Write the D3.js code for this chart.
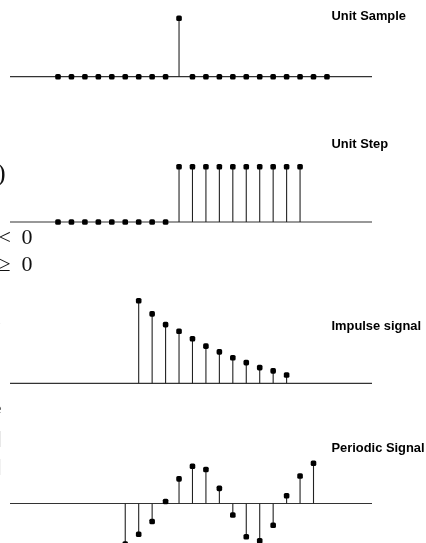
<!DOCTYPE html>
<html>
<head>
<meta charset="utf-8">
<script src="https://cdn.jsdelivr.net/npm/d3@7"></script>
<style>
  body { margin: 0; background: #fff; }
  svg { display: block; will-change: transform; }
  .title { font-family: "Liberation Sans", Arial, sans-serif; font-weight: bold; font-size: 12.9px; fill: #000; }
  .frag { font-family: "Liberation Serif", "DejaVu Serif", serif; fill: #111; }
</style>
</head>
<body>
<svg class="chart"></svg>
<script>
var titles = ['Unit Sample', 'Unit Step', 'Impulse signal', 'Periodic Signal'];

var unitSampleN = [-9, -8, -7, -6, -5, -4, -3, -2, -1, 0, 1, 2, 3, 4, 5, 6, 7, 8, 9, 10, 11];
var unitSampleValues = [0, 0, 0, 0, 0, 0, 0, 0, 0, 1, 0, 0, 0, 0, 0, 0, 0, 0, 0, 0, 0];

var unitStepN = [-9, -8, -7, -6, -5, -4, -3, -2, -1, 0, 1, 2, 3, 4, 5, 6, 7, 8, 9];
var unitStepValues = [0, 0, 0, 0, 0, 0, 0, 0, 0, 1, 1, 1, 1, 1, 1, 1, 1, 1, 1];

var impulseN = [-3, -2, -1, 0, 1, 2, 3, 4, 5, 6, 7, 8];
var impulseValues = [1.00, 0.84, 0.71, 0.63, 0.54, 0.45, 0.38, 0.31, 0.25, 0.19, 0.15, 0.10];

var periodicN = [-4, -3, -2, -1, 0, 1, 2, 3, 4, 5, 6, 7, 8, 9, 10];
var periodicValues = [-0.99, -0.75, -0.44, 0.05, 0.60, 0.91, 0.83, 0.37, -0.28, -0.81, -0.91, -0.53, 0.19, 0.67, 0.98];

(function() {
  'use strict';
  var width = 426,
      height = 543;

  var svg = d3.select('.chart')
      .attr('width', width)
      .attr('height', height);

  var x = d3.scaleLinear()
      .domain([-12.57, 14.35])
      .range([10, 372]);

  var panels = [
    { title: titles[0], n: unitSampleN, v: unitSampleValues, base: 76.7, unit: 58.4, titleY: 20 },
    { title: titles[1], n: unitStepN, v: unitStepValues, base: 222, unit: 55.3, titleY: 147.7 },
    { title: titles[2], n: impulseN, v: impulseValues, base: 383.3, unit: 82.6, titleY: 329.5 },
    { title: titles[3], n: periodicN, v: periodicValues, base: 503.5, unit: 41, titleY: 451.7 }
  ];

  panels.forEach(function(p) {
    var y = d3.scaleLinear()
        .domain([0, 1])
        .range([p.base, p.base - p.unit]);

    var data = p.n.map(function(n, i) { return { n: n, v: p.v[i] }; });
    var g = svg.append('g');

    g.append('line')
        .attr('x1', x.range()[0])
        .attr('x2', x.range()[1])
        .attr('y1', y(0))
        .attr('y2', y(0))
        .attr('stroke', '#333')
        .attr('stroke-width', 1.2);

    g.selectAll('.stem')
        .data(data.filter(function(d) { return d.v !== 0; }))
      .enter().append('line')
        .attr('class', 'stem')
        .attr('x1', function(d) { return x(d.n); })
        .attr('x2', function(d) { return x(d.n); })
        .attr('y1', y(0))
        .attr('y2', function(d) { return y(d.v); })
        .attr('stroke', '#222')
        .attr('stroke-width', 1.1);

    g.selectAll('.mark')
        .data(data)
      .enter().append('rect')
        .attr('class', 'mark')
        .attr('x', function(d) { return x(d.n) - 2.8; })
        .attr('y', function(d) { return y(d.v) - 2.8; })
        .attr('width', 5.6)
        .attr('height', 5.6)
        .attr('rx', 1.6)
        .attr('fill', '#000');

    g.append('text')
        .attr('class', 'title')
        .attr('x', 331.5)
        .attr('y', p.titleY)
        .text(p.title);
  });

  // cut-off text from the page column on the left
  var frags = [
    { t: ')', x: -3, y: 181, s: 26, c: '#111' },
    { t: '<', x: -1.5, y: 244, s: 22, c: '#111' },
    { t: '0', x: 21.5, y: 244, s: 22, c: '#111' },
    { t: '\u2265', x: -1.5, y: 270.5, s: 22, c: '#111' },
    { t: '0', x: 21.5, y: 270.5, s: 22, c: '#111' },
    { t: ')', x: -4, y: 327, s: 14, c: '#111' },
    { t: 'e', x: -5, y: 413, s: 14, c: '#111' },
    { t: '|', x: -2, y: 443, s: 17, c: '#555' },
    { t: '|', x: -2, y: 471, s: 17, c: '#999' }
  ];

  svg.append('g')
    .selectAll('.frag')
      .data(frags)
    .enter().append('text')
      .attr('class', 'frag')
      .attr('x', function(d) { return d.x; })
      .attr('y', function(d) { return d.y; })
      .attr('font-size', function(d) { return d.s; })
      .style('fill', function(d) { return d.c; })
      .text(function(d) { return d.t; });
}());
</script>
</body>
</html>
